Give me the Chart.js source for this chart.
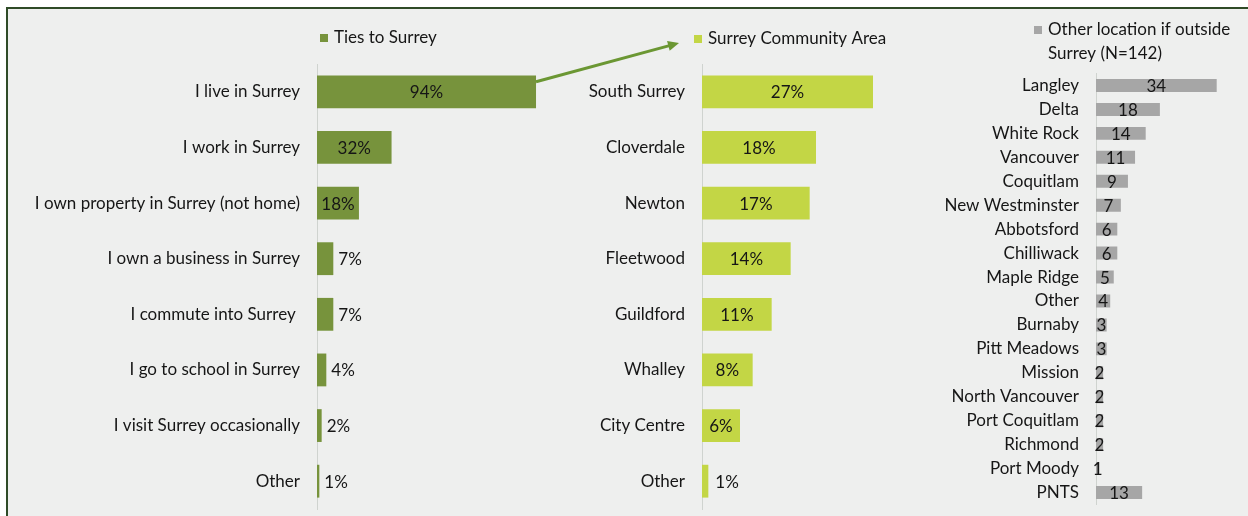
<!DOCTYPE html>
<html>
<head>
<meta charset="utf-8">
<script src="https://cdn.jsdelivr.net/npm/chart.js@4"></script>
<style>
  body{margin:0;background:#fff;}
  #wrap{position:relative;width:1248px;height:516px;overflow:hidden;}
  #panel{position:absolute;left:6px;top:7px;width:1260px;height:530px;background:#eeefee;
         border-left:2px solid #2f4b27;border-top:2px solid #2f4b27;}
  canvas{position:absolute;top:0;}
</style>
</head>
<body>
<div id="wrap">
  <div id="panel"></div>
  <canvas id="tiesChart" width="700" height="516" style="left:0"></canvas>
  <canvas id="areaChart" width="380" height="516" style="left:560px"></canvas>
  <canvas id="outsideChart" width="318" height="516" style="left:930px"></canvas>
</div>
<script>
/* ========= DATA ========= */
const tiesLabels = ["I live in Surrey","I work in Surrey","I own property in Surrey (not home)",
  "I own a business in Surrey","I commute into Surrey ","I go to school in Surrey",
  "I visit Surrey occasionally","Other"];
const tiesValues = [94,32,18,7,7,4,2,1];

const areaLabels = ["South Surrey","Cloverdale","Newton","Fleetwood","Guildford","Whalley","City Centre","Other"];
const areaValues = [27,18,17,14,11,8,6,1];

const outsideLabels = ["Langley","Delta","White Rock","Vancouver","Coquitlam","New Westminster",
  "Abbotsford","Chilliwack","Maple Ridge","Other","Burnaby","Pitt Meadows","Mission",
  "North Vancouver","Port Coquitlam","Richmond","Port Moody","PNTS"];
const outsideValues = [34,18,14,11,9,7,6,6,5,4,3,3,2,2,2,2,1,13];

/* ========= STYLE ========= */
const FONT = "Lato";
const TEXT = "#161616";

/* ========= PLUGINS ========= */
// value labels: centred in the bar, or just past its end when it will not fit
const barValues = {
  id:"barValues",
  afterDatasetsDraw(chart, args, opts){
    const ctx = chart.ctx;
    const ds = chart.data.datasets[0];
    ctx.save();
    ctx.font = `${opts.size}px ${FONT}`;
    ctx.fillStyle = TEXT;
    ctx.textBaseline = "middle";
    chart.getDatasetMeta(0).data.forEach((bar,i)=>{
      const txt = ds.data[i] + (opts.suffix||"");
      const w = ctx.measureText(txt).width;
      const bw = bar.x - bar.base;
      if (opts.alwaysInside || w + 6 < bw){
        ctx.textAlign = "center";
        ctx.fillText(txt, bar.base + bw/2, bar.y + 1);
      } else {
        ctx.textAlign = "left";
        ctx.fillText(txt, bar.x + opts.gap, bar.y + 1);
      }
    });
    ctx.restore();
  }
};

// small square + series name above the bars
const boxLegend = {
  id:"boxLegend",
  afterDraw(chart, args, opts){
    const ctx = chart.ctx;
    const ds = chart.data.datasets[0];
    const x = chart.chartArea.left + opts.dx;
    ctx.save();
    ctx.fillStyle = ds.backgroundColor;
    ctx.fillRect(x, opts.y - 4, 8, 8);
    ctx.font = `${opts.size}px ${FONT}`;
    ctx.fillStyle = TEXT;
    ctx.textBaseline = "middle";
    ctx.textAlign = "left";
    opts.lines.forEach((t,i)=> ctx.fillText(t, x + 14, opts.y + i*24));
    ctx.restore();
  }
};

// arrow from the "I live in Surrey" bar over to the community area chart
const liveArrow = {
  id:"liveArrow",
  afterDraw(chart, args, opts){
    const bar = chart.getDatasetMeta(0).data[0];
    const ctx = chart.ctx;
    const x0 = bar.x, y0 = bar.y - 10;
    const a = Math.atan2(opts.toY - y0, opts.toX - x0);
    ctx.save();
    ctx.strokeStyle = ctx.fillStyle = opts.color;
    ctx.lineWidth = 3;
    ctx.beginPath();
    ctx.moveTo(x0, y0);
    ctx.lineTo(opts.toX - 8*Math.cos(a), opts.toY - 8*Math.sin(a));
    ctx.stroke();
    ctx.beginPath();
    ctx.moveTo(opts.toX, opts.toY);
    ctx.lineTo(opts.toX - 11*Math.cos(a) + 5*Math.sin(a), opts.toY - 11*Math.sin(a) - 5*Math.cos(a));
    ctx.lineTo(opts.toX - 11*Math.cos(a) - 5*Math.sin(a), opts.toY - 11*Math.sin(a) + 5*Math.cos(a));
    ctx.closePath();
    ctx.fill();
    ctx.restore();
  }
};

/* ========= CHART BUILDER ========= */
function barChart(canvas, o){
  return new Chart(canvas,{
    type:"bar",
    data:{
      labels:o.labels,
      datasets:[{
        label:o.name,
        data:o.values,
        backgroundColor:o.color,
        categoryPercentage:1,
        barPercentage:o.thick
      }]
    },
    options:{
      indexAxis:"y",
      responsive:false,
      animation:false,
      layout:{padding:{left:0,right:o.padRight,top:o.top,bottom:o.bottom}},
      scales:{
        x:{display:false,min:0,max:o.max},
        y:{
          grid:{display:false,drawTicks:false},
          border:{display:true,color:"#cfd3cf"},
          ticks:{color:TEXT,font:{family:FONT,size:17},padding:17,autoSkip:false},
          afterFit(s){
            // fixed axis width, and no extra room above/below the first/last label
            s.width = o.axisLeft;
            s.paddingTop = 0;
            s.paddingBottom = 0;
          }
        }
      },
      plugins:{
        legend:{display:false},
        tooltip:{enabled:false},
        barValues:o.values_,
        boxLegend:o.legend,
        liveArrow:o.arrow||false
      }
    },
    plugins:o.plugins
  });
}

barChart(tiesChart,{
  labels:tiesLabels, values:tiesValues, name:"Ties to Surrey", color:"#77933c",
  thick:0.59, max:100, axisLeft:317, padRight:150, top:64, bottom:7,
  values_:{size:17,suffix:"%",gap:5},
  legend:{dx:3,y:38,size:17,lines:["Ties to Surrey"]},
  arrow:{toX:679,toY:43,color:"#6b9733"},
  plugins:[barValues,boxLegend,liveArrow]
});

barChart(areaChart,{
  labels:areaLabels, values:areaValues, name:"Surrey Community Area", color:"#c3d645",
  thick:0.59, max:30, axisLeft:142, padRight:48, top:64, bottom:7,
  values_:{size:17,suffix:"%",gap:7},
  legend:{dx:-8,y:39,size:17,lines:["Surrey Community Area"]},
  plugins:[barValues,boxLegend]
});

barChart(outsideChart,{
  labels:outsideLabels, values:outsideValues, name:"Other location if outside Surrey (N=142)", color:"#a6a6a6",
  thick:0.54, max:40, axisLeft:166, padRight:10, top:73.5, bottom:11.5,
  values_:{size:17,alwaysInside:true,gap:0},
  legend:{dx:-62,y:30,size:17,lines:["Other location if outside","Surrey (N=142)"]},
  plugins:[barValues,boxLegend]
});
</script>
</body>
</html>
